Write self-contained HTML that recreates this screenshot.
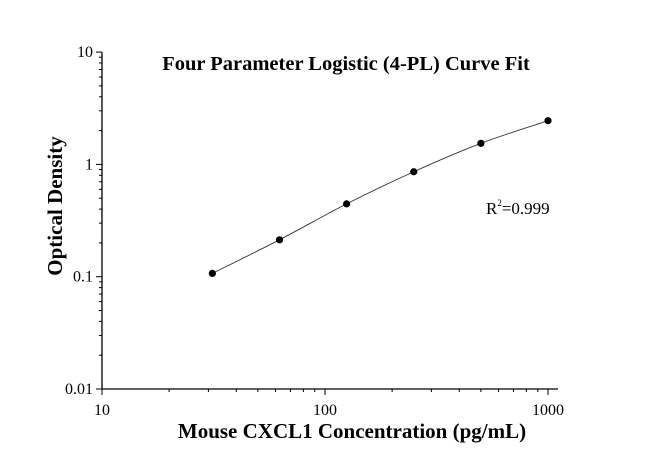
<!DOCTYPE html>
<html><head><meta charset="utf-8"><style>
body{margin:0;background:#fff;width:650px;height:462px;overflow:hidden}
svg text{font-family:"Liberation Serif",serif;fill:#000}
</style></head><body>
<svg id="chart" width="650" height="462" viewBox="0 0 650 462">
<text x="346" y="70" font-size="20.5" font-weight="bold" text-anchor="middle">Four Parameter Logistic (4-PL) Curve Fit</text>
<text transform="translate(62,206) rotate(-90)" font-size="21" font-weight="bold" text-anchor="middle">Optical Density</text>
<text x="352" y="438" font-size="21" font-weight="bold" text-anchor="middle">Mouse CXCL1 Concentration (pg/mL)</text>
<text x="486" y="214" font-size="17">R<tspan font-size="9" dy="-8">2</tspan><tspan dy="8">=0.999</tspan></text>
<g id="axes"></g><g id="series"></g>
</svg>
<script>
const concentrations=[31.25,62.5,125,250,500,1000];
const odValues=[0.107,0.213,0.445,0.86,1.54,2.45];
const xTickLabels=["10","100","1000"];
const yTickLabels=["0.01","0.1","1","10"];
const NS="http://www.w3.org/2000/svg";
const X0=102,XPD=223,Y0=389,YPD=112.3;
function xs(v){return X0+XPD*Math.log10(v/10);}
function ys(v){return Y0-YPD*Math.log10(v/0.01);}
function mk(t,a,p){const e=document.createElementNS(NS,t);for(const k in a)e.setAttribute(k,a[k]);p.appendChild(e);return e;}
const ax=document.getElementById('axes');
const sr=document.getElementById('series');
let e;
e=mk('line',{x1:X0,y1:Y0,x2:558,y2:Y0,stroke:'#000','stroke-width':1.3},ax);


e=mk('line',{x1:X0,y1:ys(10),x2:X0,y2:Y0,stroke:'#000','stroke-width':1.3},ax);


for(let d=10;d<=1000;d*=10){for(let m=1;m<10;m++){const v=d*m;if(v>1000)break;const x=xs(v);const L=m===1?6:3;
e=mk('line',{x1:x,y1:Y0,x2:x,y2:Y0+L,stroke:'#000','stroke-width':1},ax);

}}
xTickLabels.forEach(s=>{e=mk('text',{x:xs(+s),y:Y0+26,'font-size':16,'text-anchor':'middle'},ax);e.textContent=s;

});
for(let d=0.01;d<=10.0001;d*=10){for(let m=1;m<10;m++){const v=d*m;if(v>10.0001)break;const y=ys(v);const L=m===1?6:3;
e=mk('line',{x1:X0-L,y1:y,x2:X0,y2:y,stroke:'#000','stroke-width':1},ax);

}}
yTickLabels.forEach(s=>{e=mk('text',{x:X0-9,y:ys(+s)+5,'font-size':16,'text-anchor':'end'},ax);e.textContent=s;

});
const pts=concentrations.map((c,i)=>[xs(c),ys(odValues[i])]);
let d='M'+pts[0][0]+','+pts[0][1];
for(let i=0;i<pts.length-1;i++){const p0=pts[i-1]||pts[i],p1=pts[i],p2=pts[i+1],p3=pts[i+2]||p2;
d+=' C'+(p1[0]+(p2[0]-p0[0])/6)+','+(p1[1]+(p2[1]-p0[1])/6)+' '+(p2[0]-(p3[0]-p1[0])/6)+','+(p2[1]-(p3[1]-p1[1])/6)+' '+p2[0]+','+p2[1];}
e=mk('path',{d:d,fill:'none',stroke:'#333','stroke-width':0.9},sr);


pts.forEach(p=>{e=mk('circle',{cx:p[0],cy:p[1],r:3.6,fill:'#000'},sr);

});
</script>
</body></html>
